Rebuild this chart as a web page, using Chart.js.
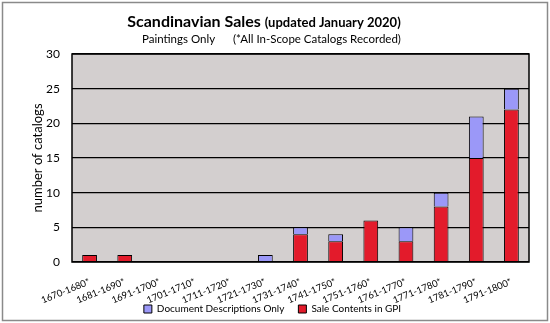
<!DOCTYPE html>
<html><head><meta charset="utf-8">
<script src="https://cdn.jsdelivr.net/npm/chart.js@4"></script>
<style>
html,body{margin:0;padding:0;background:#fff;}
#wrap{position:relative;width:550px;height:323px;}
canvas{display:block;}
</style></head><body>
<div id="wrap"><canvas id="c" width="550" height="323"></canvas></div>
<script>
const categories = ["1670-1680*","1681-1690*","1691-1700*","1701-1710*","1711-1720*","1721-1730*","1731-1740*","1741-1750*","1751-1760*","1761-1770*","1771-1780*","1781-1790*","1791-1800*"];
const saleContents = [1,1,0,0,0,0,4,3,6,3,8,15,22];
const docDescriptions = [0,0,0,0,0,1,1,1,0,2,2,6,3];
const yTicks = [0,5,10,15,20,25,30];
const titleMain = "Scandinavian Sales";
const titleSub = "(updated January 2020)";
const subtitleLeft = "Paintings Only";
const subtitleRight = "(*All In-Scope Catalogs Recorded)";

const FONT = "Lato, 'Open Sans', sans-serif";

const decor = {
  id:'decor',
  beforeDraw(chart){
    const {ctx, chartArea:a} = chart;
    ctx.save();
    ctx.fillStyle='#fff'; ctx.fillRect(0,0,chart.width,chart.height);
    ctx.fillStyle='#d3cfcf';
    ctx.fillRect(a.left,a.top,a.right-a.left,a.bottom-a.top);
    ctx.strokeStyle='#8a8a8a'; ctx.lineWidth=1.5;
    ctx.strokeRect(2.5,2.5,chart.width-5,chart.height-5);
    ctx.fillStyle='#000'; ctx.textBaseline='alphabetic';
    ctx.font = "bold 16px "+FONT;
    const w1 = ctx.measureText(titleMain+" ").width;
    ctx.font = "bold 13px "+FONT;
    const w2 = ctx.measureText(titleSub).width;
    let x = 264 - (w1+w2)/2;
    ctx.font = "bold 16px "+FONT; ctx.textAlign='left';
    ctx.fillText(titleMain+" ", x, 27);
    ctx.font = "bold 13px "+FONT;
    ctx.fillText(titleSub, x+w1, 27);
    ctx.font = "11.5px "+FONT;
    ctx.fillText(subtitleLeft, 142, 43);
    ctx.fillText(subtitleRight, 233, 43);
    ctx.restore();
  },
  afterDatasetsDraw(chart){
    const {ctx, chartArea:a} = chart;
    ctx.save();
    ctx.strokeStyle='#000'; ctx.lineWidth=1.5;
    ctx.strokeRect(a.left,a.top,a.right-a.left,a.bottom-a.top);
    ctx.restore();
  }
};

new Chart(document.getElementById('c'), {
  type:'bar',
  data:{
    labels: categories,
    datasets:[
      {label:'Sale Contents in GPI', data: saleContents, backgroundColor:'#e31b2b', borderColor:'#000', borderWidth:1, barPercentage:0.42, categoryPercentage:1},
      {label:'Document Descriptions Only', data: docDescriptions, backgroundColor:'#9b98f8', borderColor:'#000', borderWidth:1, barPercentage:0.42, categoryPercentage:1}
    ]
  },
  options:{
    responsive:false, animation:false,
    layout:{padding:{top:54,right:21,left:16,bottom:-1}},
    plugins:{
      title:{display:false},
      tooltip:{enabled:false},
      legend:{
        position:'bottom', reverse:true,
        labels:{boxWidth:8, boxHeight:8, font:{family:FONT,size:10}, color:'#000', padding:14}
      }
    },
    scales:{
      x:{
        stacked:true,
        grid:{display:false, drawTicks:false},
        border:{display:false},
        ticks:{minRotation:22, maxRotation:22, font:{family:FONT,size:9.5}, color:'#000', padding:14, autoSkip:false},
        afterFit(s){ s.height = 28; s._computeLabelArea = function(){ return undefined; }; }
      },
      y:{
        stacked:true, min:0, max:30,
        afterBuildTicks(s){ s.ticks = yTicks.map(v=>({value:v})); },
        grid:{color:'#000', lineWidth:1.3, drawTicks:false},
        border:{display:false},
        ticks:{font:{family:FONT,size:12}, color:'#000', padding:12},
        title:{display:true, text:'number of catalogs', font:{family:FONT,size:13}, color:'#000', padding:{top:14,bottom:0}},
        afterFit(s){ s.width = 56; }
      }
    }
  },
  plugins:[decor]
});
</script>
</body></html>
